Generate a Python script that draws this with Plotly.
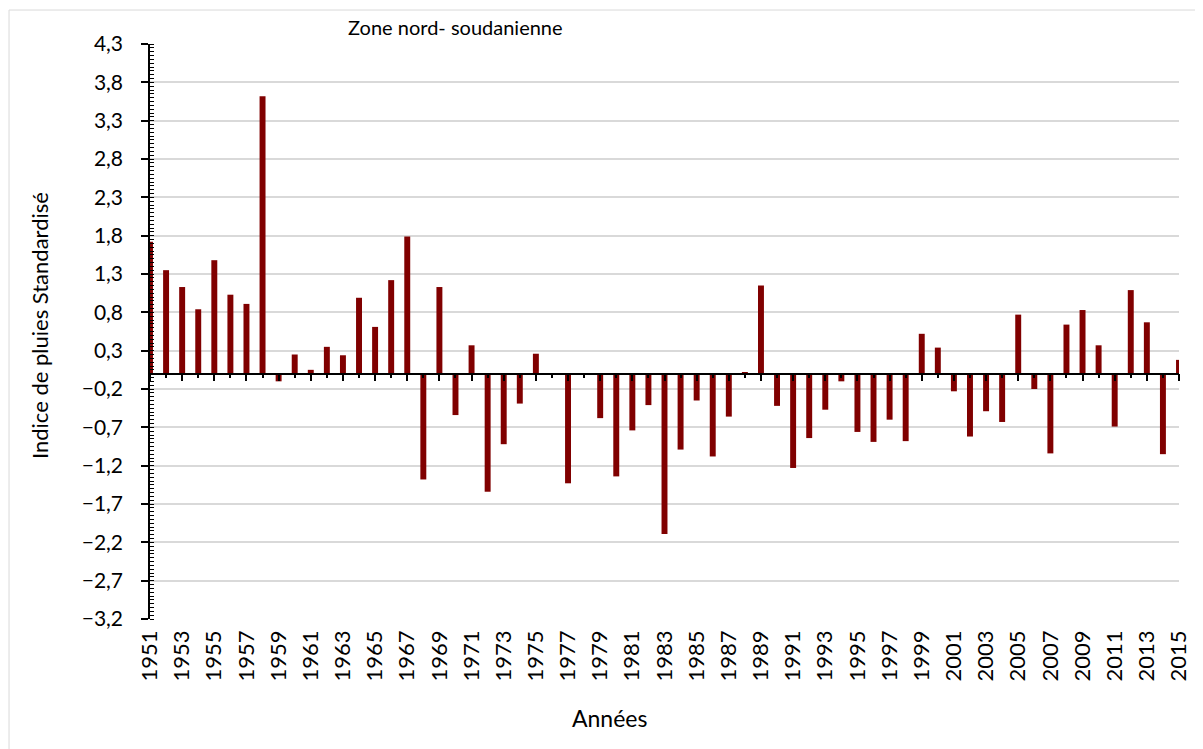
import plotly.graph_objects as go

years = list(range(1951, 2016))
values = [
    1.72, 1.35, 1.13, 0.84, 1.48, 1.03, 0.91, 3.62, -0.10, 0.25,
    0.05, 0.35, 0.24, 0.99, 0.61, 1.22, 1.79, -1.38, 1.13, -0.54,
    0.37, -1.54, -0.92, -0.39, 0.26, 0.0, -1.43, 0.0, -0.58, -1.34,
    -0.74, -0.41, -2.09, -0.99, -0.35, -1.08, -0.56, 0.02, 1.15, -0.42,
    -1.23, -0.84, -0.47, -0.10, -0.76, -0.89, -0.60, -0.88, 0.52, 0.34,
    -0.23, -0.82, -0.49, -0.63, 0.77, -0.20, -1.04, 0.64, 0.83, 0.37,
    -0.69, 1.09, 0.67, -1.05, 0.18,
]
label_years = list(range(1951, 2016, 2))
title_text = "Zone nord- soudanienne"
x_title = "Années"
y_title = "Indice de pluies Standardisé"

Y_MIN, Y_MAX = -3.2, 4.3
FONT = "Lato"

fig = go.Figure()
fig.add_trace(go.Bar(
    x=years, y=values, width=0.37,
    marker=dict(color="#800000", line=dict(width=0)),
    showlegend=False,
))
# helper trace so the zero-crossing axis is drawn
fig.add_trace(go.Scatter(x=[], y=[], xaxis="x2", yaxis="y", showlegend=False, hoverinfo="skip"))

fig.update_layout(
    width=1195, height=741,
    margin=dict(l=142, r=20, t=36, b=130),
    paper_bgcolor="white", plot_bgcolor="white",
    separators=", ",
    font=dict(family=FONT, size=21, color="#000000"),
    xaxis=dict(
        range=[1951, 2015],
        tickmode="array", tickvals=label_years, ticktext=[str(y) for y in label_years],
        tickangle=-90, ticks="", showline=False, showgrid=False, zeroline=False,
        ticklabelstandoff=6,
        tickfont=dict(family=FONT, size=22),
    ),
    xaxis2=dict(
        overlaying="x", matches="x", anchor="free",
        position=(0 - Y_MIN) / (Y_MAX - Y_MIN),
        showticklabels=False, showgrid=False, zeroline=False,
        showline=True, linecolor="black", linewidth=1.5,
        tickmode="linear", tick0=1951, dtick=2,
        ticks="outside", ticklen=7, tickwidth=1.5, tickcolor="black",
        minor=dict(tick0=1951, dtick=1, ticks="outside", ticklen=4, tickwidth=1.5, tickcolor="black", showgrid=False),
    ),
    yaxis=dict(
        range=[Y_MIN, Y_MAX],
        tickmode="linear", tick0=Y_MIN, dtick=0.5, tickformat=".1f",
        showgrid=True, gridcolor="#d9d9d9", gridwidth=1.5,
        zeroline=False, showline=True, linecolor="black", linewidth=1.5,
        ticks="outside", ticklen=7, tickwidth=1.5, tickcolor="black",
        ticklabelstandoff=14,
        minor=dict(dtick=0.05, tick0=Y_MIN, ticks="inside", ticklen=4, tickwidth=1, tickcolor="black", showgrid=False),
        tickfont=dict(family=FONT, size=21),
    ),
    annotations=[
        dict(text=title_text, xref="paper", yref="paper", x=0.297, y=1.0296,
             xanchor="center", yanchor="middle", showarrow=False,
             font=dict(family=FONT, size=20)),
        dict(text=x_title, xref="paper", yref="paper", x=0.447, y=-0.172,
             xanchor="center", yanchor="middle", showarrow=False,
             font=dict(family=FONT, size=23)),
        dict(text=y_title, xref="paper", yref="paper", x=-0.108, y=0.511,
             xanchor="center", yanchor="middle", showarrow=False, textangle=-90,
             font=dict(family=FONT, size=22)),
    ],
    shapes=[
        dict(type="rect", xref="paper", yref="paper",
             x0=-0.137, x1=1.03, y0=-0.25, y1=1.0591,
             line=dict(color="#d9d9d9", width=1), fillcolor="rgba(0,0,0,0)", layer="below"),
    ],
)

fig.write_html("out.html")
